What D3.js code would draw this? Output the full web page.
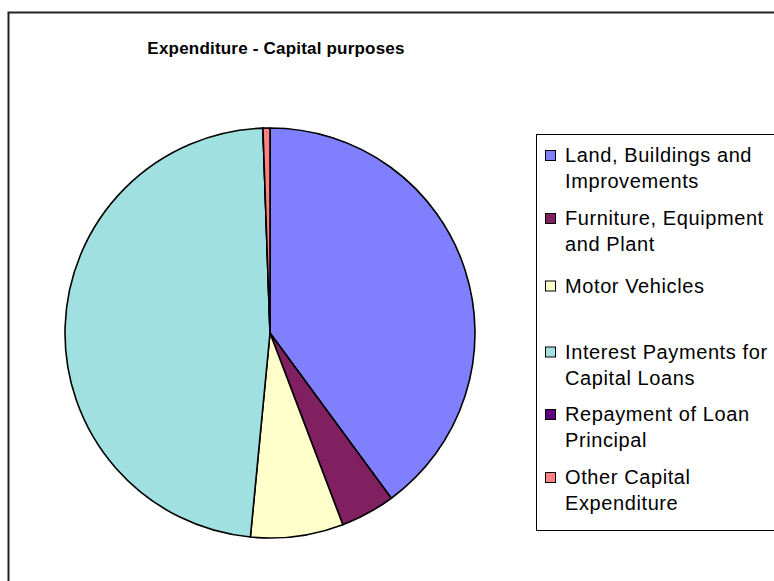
<!DOCTYPE html>
<html>
<head>
<meta charset="utf-8">
<script src="https://cdn.jsdelivr.net/npm/d3@7"></script>
<style>
  html, body { margin: 0; padding: 0; background: #fff; }
  svg { display: block; }
</style>
</head>
<body>
<svg id="chart" width="774" height="581"></svg>
<script>
const title = "Expenditure - Capital purposes";
const categories = [
  "Land, Buildings and Improvements",
  "Furniture, Equipment and Plant",
  "Motor Vehicles",
  "Interest Payments for Capital Loans",
  "Repayment of Loan Principal",
  "Other Capital Expenditure"
];
const legendLines = [
  ["Land, Buildings and", "Improvements"],
  ["Furniture, Equipment", "and Plant"],
  ["Motor Vehicles"],
  ["Interest Payments for", "Capital Loans"],
  ["Repayment of Loan", "Principal"],
  ["Other Capital", "Expenditure"]
];
const values = [39.9, 4.3, 7.3, 47.9, 0, 0.55];
const colors = ["#8080FF", "#802060", "#FFFFCC", "#A0E0E0", "#600080", "#FF8080"];

const svg = d3.select("#chart");
const font = "'Liberation Sans', Arial, sans-serif";

// outer chart border
svg.append("rect")
  .attr("x", 8.5).attr("y", 12.5)
  .attr("width", 800).attr("height", 600)
  .attr("fill", "#fff")
  .attr("stroke", "#222").attr("stroke-width", 2);

// title
svg.append("text")
  .attr("x", 276).attr("y", 54)
  .attr("text-anchor", "middle")
  .attr("font-family", font)
  .attr("font-weight", "bold")
  .attr("font-size", 17)
  .attr("letter-spacing", 0.2)
  .attr("fill", "#000")
  .text(title);

// pie
const cx = 270, cy = 333, r = 205;
const pie = d3.pie().sort(null).value(d => d).startAngle(0).endAngle(2 * Math.PI);
const arc = d3.arc().innerRadius(0).outerRadius(r);
const g = svg.append("g").attr("transform", `translate(${cx},${cy})`);
g.selectAll("path")
  .data(pie(values))
  .join("path")
  .attr("d", arc)
  .attr("fill", (d, i) => colors[i])
  .attr("stroke", "#000")
  .attr("stroke-width", 1.6)
  .attr("stroke-linejoin", "round");

// legend
svg.append("rect")
  .attr("x", 536.5).attr("y", 134.5)
  .attr("width", 260).attr("height", 396)
  .attr("fill", "#fff")
  .attr("stroke", "#000").attr("stroke-width", 1);

const lg = svg.append("g");
const entryY = [162, 225, 292.5, 358.5, 421, 484];
const items = lg.selectAll("g.item")
  .data(categories)
  .join("g")
  .attr("class", "item")
  .attr("transform", (d, i) => `translate(0,${entryY[i]})`);
items.append("rect")
  .attr("x", 545.5).attr("y", -11.5)
  .attr("width", 10).attr("height", 10)
  .attr("fill", (d, i) => colors[i])
  .attr("stroke", "#000").attr("stroke-width", 1);
items.append("text")
  .attr("font-family", font)
  .attr("font-size", 20)
  .attr("letter-spacing", 0.6)
  .attr("fill", "#000")
  .each(function(d, i) {
    const t = d3.select(this);
    legendLines[i].forEach((line, j) => {
      t.append("tspan").attr("x", 565).attr("y", j * 26).text(line);
    });
  });
</script>
</body>
</html>
